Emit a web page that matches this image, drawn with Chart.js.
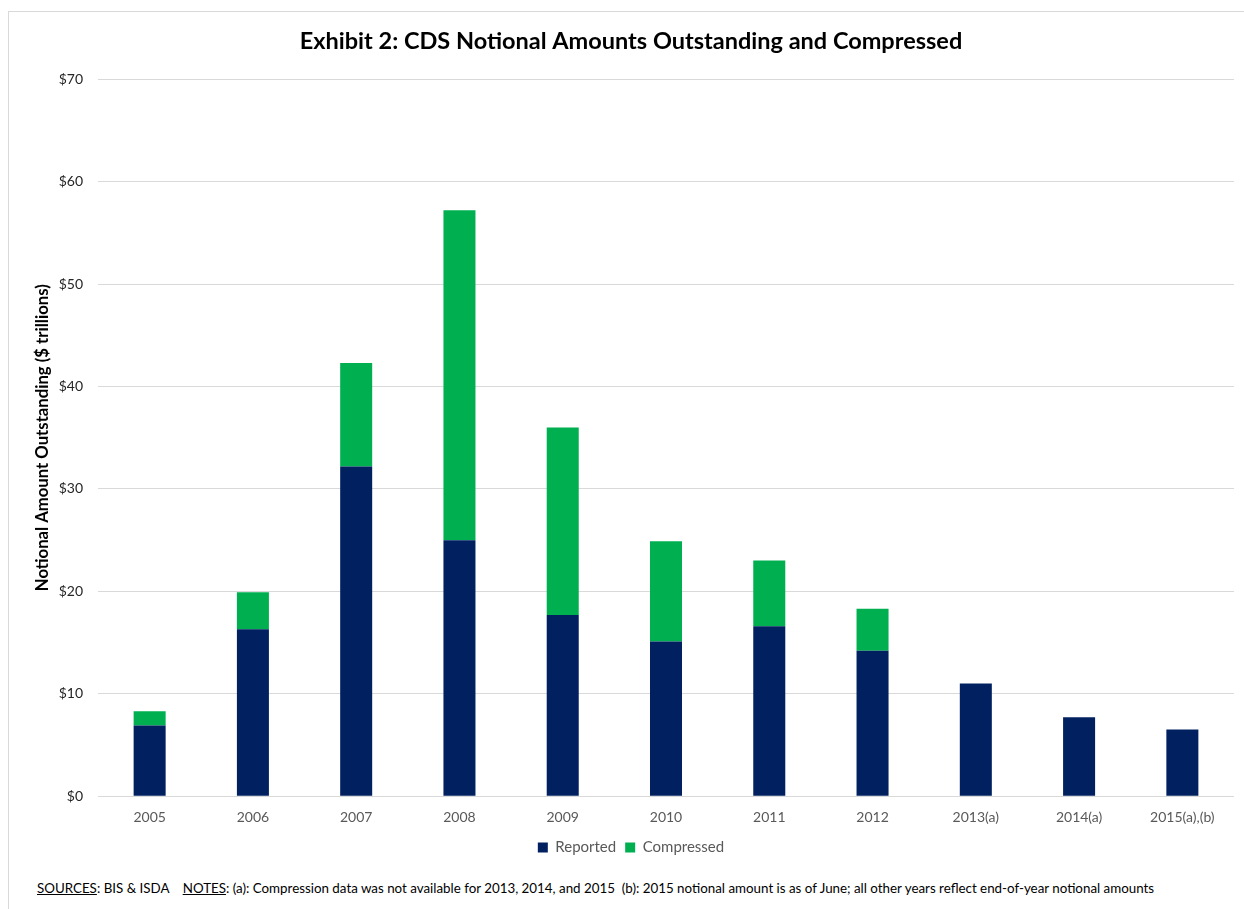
<!DOCTYPE html>
<html>
<head>
<meta charset="utf-8">
<script src="https://cdn.jsdelivr.net/npm/chart.js@4"></script>
<style>
  html, body { margin: 0; padding: 0; background: #fff; overflow: hidden; }
  #frame {
    position: absolute; left: 8px; top: 11px; width: 1260px; height: 920px;
    border: 1px solid #d9d9d9; box-sizing: border-box;
  }
  #wrap { position: absolute; left: 0; top: 0; width: 1244px; height: 872px; }
  #notes {
    position: absolute; left: 37px; top: 880px; white-space: nowrap;
    font-family: Lato, sans-serif; font-size: 13.35px; color: #000;
  }
</style>
</head>
<body>
<div id="frame"></div>
<div id="wrap"><canvas id="cdsChart"></canvas></div>
<div id="notes"><u>SOURCES</u>: BIS &amp; ISDA&nbsp;&nbsp;&nbsp; <u>NOTES</u>: (a): Compression data was not available for 2013, 2014, and 2015&nbsp; (b): 2015 notional amount is as of June; all other years reflect end-of-year notional amounts</div>
<script>
// $ trillions
var years = ['2005', '2006', '2007', '2008', '2009', '2010', '2011', '2012', '2013(a)', '2014(a)', '2015(a),(b)'];
var reported = [6.9, 16.3, 32.2, 25.0, 17.7, 15.1, 16.6, 14.2, 11.0, 7.7, 6.5];
var compressed = [1.4, 3.6, 10.1, 32.2, 18.3, 9.8, 6.4, 4.1, null, null, null];
var yTicks = [0, 10, 20, 30, 40, 50, 60, 70];

var font = 'Lato, sans-serif';

var ctx = document.getElementById('cdsChart').getContext('2d');
new Chart(ctx, {
  type: 'bar',
  data: {
    labels: years,
    datasets: [
      { label: 'Reported', data: reported, backgroundColor: '#002060', barPercentage: 0.31, categoryPercentage: 1 },
      { label: 'Compressed', data: compressed, backgroundColor: '#00B050', barPercentage: 0.31, categoryPercentage: 1 }
    ]
  },
  options: {
    responsive: true,
    maintainAspectRatio: false,
    animation: false,
    layout: { padding: { left: 28, right: 10, top: 0, bottom: 7 } },
    plugins: {
      title: {
        display: true,
        text: 'Exhibit 2: CDS Notional Amounts Outstanding and Compressed',
        color: '#000',
        font: { family: font, size: 23.5, weight: 'bold' },
        padding: { top: 27, bottom: 24 }
      },
      legend: {
        position: 'bottom',
        labels: {
          boxWidth: 10, boxHeight: 10, padding: 9,
          color: '#595959',
          font: { family: font, size: 15 }
        }
      },
      tooltip: { enabled: false }
    },
    scales: {
      x: {
        stacked: true,
        grid: { display: false },
        border: { display: false },
        ticks: { color: '#595959', padding: 5, font: { family: font, size: 14 }, maxRotation: 0 }
      },
      y: {
        stacked: true,
        min: 0, max: 70,
        afterBuildTicks: function (scale) {
          scale.ticks = yTicks.map(function (v) { return { value: v }; });
        },
        afterFit: function (scale) { scale.width = 70; },
        grid: { color: '#d9d9d9', lineWidth: 1, drawTicks: false },
        border: { display: false },
        ticks: {
          color: '#262626', padding: 15,
          font: { family: font, size: 14 },
          callback: function (v) { return '$' + v; }
        },
        title: {
          display: true,
          text: 'Notional Amount Outstanding ($ trillions)',
          color: '#000',
          font: { family: font, size: 16.7, weight: 'bold' },
          padding: { top: 5, bottom: 0 }
        }
      }
    }
  }
});
</script>
</body>
</html>
